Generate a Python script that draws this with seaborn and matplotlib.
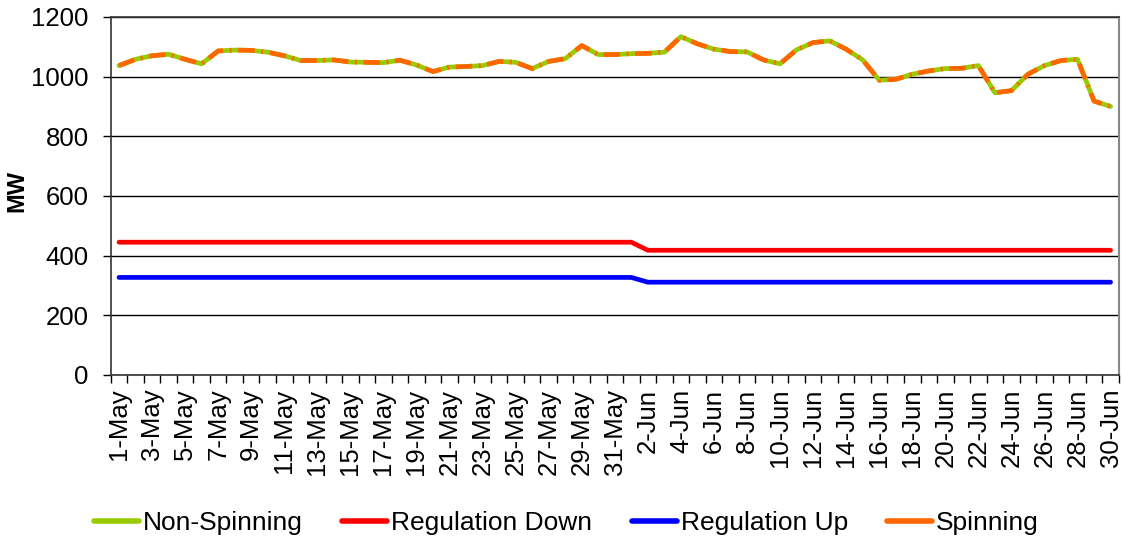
import matplotlib
matplotlib.use("Agg")
import numpy as np
import pandas as pd
import seaborn as sns
from matplotlib import pyplot as plt
from matplotlib.ticker import FixedLocator, MultipleLocator

# daily values, 1-May .. 30-Jun
days = [f"{d.day}-{d.strftime('%b')}" for d in pd.date_range("2013-05-01", "2013-06-30")]

non_spinning = [1037, 1058, 1070, 1075, 1058, 1043, 1086, 1089, 1088, 1082,
                1070, 1054, 1054, 1056, 1049, 1048, 1047, 1055, 1039, 1017,
                1032, 1034, 1037, 1051, 1048, 1027, 1051, 1060, 1104, 1074,
                1074, 1077, 1078, 1082, 1134, 1110, 1092, 1084, 1083, 1056,
                1043, 1090, 1114, 1120, 1092, 1056, 988, 991, 1008, 1019,
                1027, 1028, 1037, 946, 953, 1008, 1037, 1054, 1058, 918,
                900]
spinning = list(non_spinning)
regulation_down = [445] * 32 + [418] * 29
regulation_up = [327] * 32 + [311] * 29

series_names = ["Non-Spinning", "Regulation Down", "Regulation Up", "Spinning"]
series_colors = ["#99CC00", "#FF0000", "#0000FF", "#FF6600"]

df = pd.DataFrame({
    "day": np.tile(np.arange(len(days)), 4),
    "MW": non_spinning + regulation_down + regulation_up + spinning,
    "series": np.repeat(series_names, len(days)),
})

sns.set_style("white")
plt.rcParams["font.family"] = ["Liberation Sans", "DejaVu Sans"]
plt.rcParams["text.color"] = "black"
plt.rcParams["axes.labelcolor"] = "black"
plt.rcParams["xtick.color"] = "black"
plt.rcParams["ytick.color"] = "black"

fig = plt.figure(figsize=(11.22, 5.4), dpi=100)
ax = fig.add_axes([0.0987, 0.3056, 0.8985, 0.663])

dashes = {"Non-Spinning": "", "Regulation Down": "", "Regulation Up": "",
          "Spinning": (3.5, 1.4, 0.4, 1.4)}
sns.lineplot(data=df, x="day", y="MW", hue="series", style="series",
             palette=dict(zip(series_names, series_colors)), dashes=dashes,
             linewidth=3.4, ax=ax, legend=False)

ax.set_xlim(-0.5, len(days) - 0.5)
ax.set_ylim(0, 1200)
ax.yaxis.set_major_locator(MultipleLocator(200))
ax.grid(axis="y", color="black", linewidth=1)
ax.set_axisbelow(True)

fs = 18.5
ax.set_xticks(np.arange(0, len(days), 2))
ax.set_xticklabels(days[::2], rotation=90, fontsize=fs)
ax.xaxis.set_minor_locator(FixedLocator(np.arange(-0.5, len(days), 1)))
ax.tick_params(axis="x", which="major", length=0, pad=10)
ax.tick_params(axis="x", which="minor", length=6, width=1, color="black", bottom=True)
ax.tick_params(axis="y", labelsize=fs, length=6, width=1, color="black", left=True, pad=10)
ax.set_xlabel("")
ax.set_ylabel("MW", fontsize=17, fontweight="bold", va="center")
ax.yaxis.set_label_coords(-0.093, 0.515)

for side in ["left", "bottom", "top"]:
    ax.spines[side].set_color("#333333")
    ax.spines[side].set_linewidth(1.2)
ax.spines["right"].set_color("#888888")
ax.spines["right"].set_linewidth(1.5)

handles = [plt.Line2D([], [], color=c, linewidth=4, solid_capstyle="round") for c in series_colors]
fig.legend(handles, series_names, loc="lower center", bbox_to_anchor=(0.505, -0.035),
           ncol=4, frameon=False, fontsize=19, handlelength=1.7, handletextpad=0.15,
           columnspacing=1.5)

fig.savefig("out.png", dpi=100)
